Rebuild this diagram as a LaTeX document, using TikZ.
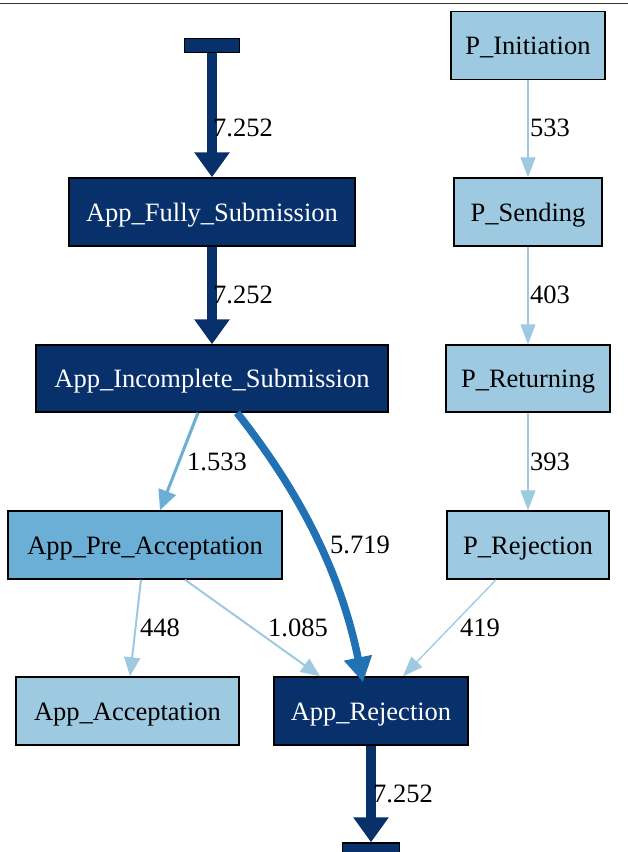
\documentclass[tikz,border=0pt]{standalone}
\usepackage{fontspec}
\setmainfont{Liberation Serif}
\usetikzlibrary{arrows.meta}
\definecolor{navy}{HTML}{08306B}
\definecolor{midblue}{HTML}{2171B5}
\definecolor{lblue}{HTML}{6BAED6}
\definecolor{pblue}{HTML}{9ECAE1}
\begin{document}
\begin{tikzpicture}[x=1pt,y=-1pt,
  box/.style={draw=black,line width=1.5pt,inner sep=0pt,text height=20pt,text depth=1.5pt,font=\fontsize{26.5pt}{30pt}\selectfont},
  darkbox/.style={box,fill=navy,text=white},
  medbox/.style={box,fill=lblue,text=black},
  lightbox/.style={box,fill=pblue,text=black},
  elabel/.style={anchor=west,inner sep=0pt,font=\fontsize{26.5pt}{30pt}\selectfont},
  thickedge/.style={draw=navy,line width=10.7pt,-{Triangle[length=25pt,width=34pt]}},
  curveedge/.style={draw=midblue,line width=7.5pt,-{Triangle[length=25pt,width=27pt]}},
  medge/.style={draw=lblue,line width=3pt,-{Triangle[length=20pt,width=18pt]}},
  ledge/.style={draw=pblue,line width=2pt,-{Triangle[length=19pt,width=16pt]}},
  thinedge/.style={draw=pblue,line width=1.3pt,-{Triangle[length=20pt,width=15pt]}},
]
\useasboundingbox (0,0) rectangle (628,852);
\clip (0,0) rectangle (628,852);
\fill[white] (0,0) rectangle (628,852);
\draw[line width=1.2pt,black!80] (0,3.5) -- (628,3.5);

% nodes
\node[darkbox,minimum width=55pt,minimum height=14pt,text height=0pt,text depth=0pt] (start) at (212,45.5) {};
\node[darkbox,minimum width=286pt,minimum height=68pt] (fully) at (212,212) {App\_Fully\_Submission};
\node[darkbox,minimum width=352pt,minimum height=67pt] (inc) at (212,378.5) {App\_Incomplete\_Submission};
\node[medbox,minimum width=274pt,minimum height=68pt] (pre) at (145,545) {App\_Pre\_Acceptation};
\node[lightbox,minimum width=223pt,minimum height=68pt] (acc) at (127.5,711) {App\_Acceptation};
\node[darkbox,minimum width=194pt,minimum height=68pt] (rej) at (371,711) {App\_Rejection};
\node[darkbox,minimum width=57pt,minimum height=14pt,text height=0pt,text depth=0pt] (end) at (371,850) {};
\node[lightbox,minimum width=154pt,minimum height=68pt] (pinit) at (528,45.5) {P\_Initiation};
\node[lightbox,minimum width=148pt,minimum height=68pt] (psend) at (528,212) {P\_Sending};
\node[lightbox,minimum width=164pt,minimum height=67pt] (pret) at (528,378.5) {P\_Returning};
\node[lightbox,minimum width=162pt,minimum height=68pt] (prej) at (528,545) {P\_Rejection};

% edges
\draw[thickedge] (start.south) -- (fully.north);
\draw[thickedge] (fully.south) -- (inc.north);
\draw[medge] ([xshift=-14pt]inc.south) -- ([xshift=15pt]pre.north);
\draw[curveedge] ([xshift=25pt]inc.south) .. controls (290,480) and (338,560) .. ([xshift=-8pt,yshift=-6pt]rej.north);
\draw[ledge] ([xshift=-4pt]pre.south) -- ([xshift=2.5pt]acc.north);
\draw[ledge] ([xshift=40pt]pre.south) -- ([xshift=-51pt]rej.north);
\draw[thinedge] ([xshift=-32pt]prej.south) -- ([xshift=32pt]rej.north);
\draw[thickedge] (rej.south) -- (end.north);
\draw[thinedge] (pinit.south) -- (psend.north);
\draw[thinedge] (psend.south) -- (pret.north);
\draw[thinedge] (pret.south) -- (prej.north);

% labels
\node[elabel] (l1) at (213,128) {7.252};
\node[elabel] (l2) at (213,295) {7.252};
\node[elabel] (l3) at (187,462) {1.533};
\node[elabel] (l4) at (330,545) {5.719};
\node[elabel] (l5) at (140,628) {448};
\node[elabel] (l6) at (268,628) {1.085};
\node[elabel] (l7) at (460,628) {419};
\node[elabel] (l8) at (373,794) {7.252};
\node[elabel] (l9) at (530,128) {533};
\node[elabel] (l10) at (530,295) {403};
\node[elabel] (l11) at (530,462) {393};
\end{tikzpicture}
\end{document}
